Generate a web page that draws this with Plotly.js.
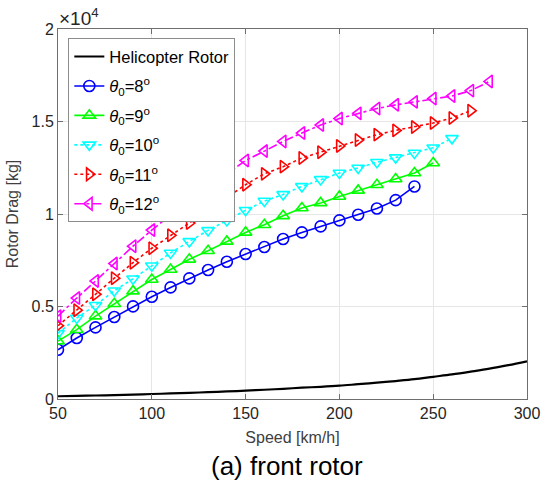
<!DOCTYPE html>
<html>
<head>
<meta charset="utf-8">
<script src="https://cdn.plot.ly/plotly-3.0.1.min.js"></script>
<style>
  html, body { margin: 0; padding: 0; background: #fff; }
  #chart { width: 543px; height: 484px; }
</style>
</head>
<body>
<div id="chart"></div>
<script>
// Rotor drag versus flight speed, front rotor, for several collective pitch settings
const speedHeli = [50, 60, 70, 80, 90, 100, 110, 120, 130, 140, 150, 160, 170, 180, 190, 200, 210, 220, 230, 240, 250, 260, 270, 280, 290, 300];
const dragHeli  = [150, 170, 190, 210, 240, 270, 300, 330, 370, 410, 450, 500, 550, 610, 660, 720, 800, 880, 970, 1070, 1200, 1330, 1480, 1640, 1830, 2040];

const speed8  = [50, 60, 70, 80, 90, 100, 110, 120, 130, 140, 150, 160, 170, 180, 190, 200, 210, 220, 230, 240];
const drag8   = [2665, 3297, 3870, 4432, 5005, 5530, 6032, 6519, 6973, 7421, 7838, 8216, 8649, 9005, 9330, 9654, 9962, 10300, 10750, 11490];

const speed9  = [50, 60, 70, 80, 90, 100, 110, 120, 130, 140, 150, 160, 170, 180, 190, 200, 210, 220, 230, 240, 250];
const drag9   = [3130, 3746, 4480, 5150, 5830, 6460, 7000, 7550, 8016, 8519, 9005, 9421, 9900, 10324, 10600, 10950, 11276, 11584, 11892, 12216, 12757];

const speed10 = [50, 60, 70, 80, 90, 100, 110, 120, 130, 140, 150, 160, 170, 180, 190, 200, 210, 220, 230, 240, 250, 260];
const drag10  = [3550, 4378, 5070, 5850, 6502, 7205, 7892, 8519, 9113, 9650, 10200, 10700, 11060, 11492, 11870, 12216, 12486, 12800, 13050, 13297, 13580, 14090];

const speed11 = [50, 60, 70, 80, 90, 100, 110, 120, 130, 140, 150, 160, 170, 180, 190, 200, 210, 220, 230, 240, 250, 260, 270];
const drag11  = [3962, 4800, 5660, 6530, 7370, 8150, 8850, 9513, 10200, 10900, 11584, 12170, 12560, 13030, 13340, 13680, 14000, 14290, 14520, 14700, 14918, 15189, 15583];

const speed12 = [50, 60, 70, 80, 90, 100, 110, 120, 130, 140, 150, 160, 170, 180, 190, 200, 210, 220, 230, 240, 250, 260, 270, 280];
const drag12  = [4480, 5459, 6380, 7320, 8260, 9130, 9950, 10700, 11400, 12150, 12897, 13400, 13924, 14378, 14810, 15160, 15440, 15700, 15900, 16060, 16240, 16375, 16670, 17167];

const seriesNames = [
  'Helicopter Rotor',
  '<i>θ</i><sub>0</sub>=8<sup>o</sup>',
  '<i>θ</i><sub>0</sub>=9<sup>o</sup>',
  '<i>θ</i><sub>0</sub>=10<sup>o</sup>',
  '<i>θ</i><sub>0</sub>=11<sup>o</sup>',
  '<i>θ</i><sub>0</sub>=12<sup>o</sup>'
];

const xTicks = [50, 100, 150, 200, 250, 300];
const yTickVals = [0, 5000, 10000, 15000, 20000];
const yTickText = ['0', '0.5', '1', '1.5', '2'];

const FONT = 'Liberation Sans, Arial, sans-serif';

function pitchTrace(x, y, name, color, dash, symbol, group) {
  return {
    x: x, y: y, name: name, legendgroup: group, type: 'scatter', mode: 'lines+markers',
    line: { color: color, width: 1.6, dash: dash },
    marker: { symbol: symbol, size: 11, color: color, line: { color: color, width: 1.6 } }
  };
}

const traces = [
  { x: speedHeli, y: dragHeli, name: seriesNames[0], legendgroup: 'heli', type: 'scatter', mode: 'lines',
    line: { color: '#000000', width: 2.2, shape: 'spline' } },
  pitchTrace(speed8,  drag8,  seriesNames[1], '#0000ff', 'solid',   'circle-open',         'p8'),
  pitchTrace(speed9,  drag9,  seriesNames[2], '#00ff00', 'solid',   'triangle-up-open',    'p9'),
  pitchTrace(speed10, drag10, seriesNames[3], '#00ffff', 'dot',     'triangle-down-open',  'p10'),
  pitchTrace(speed11, drag11, seriesNames[4], '#ff0000', 'dot',     'triangle-right-open', 'p11'),
  pitchTrace(speed12, drag12, seriesNames[5], '#ff00ff', 'dashdot', 'triangle-left-open',  'p12')
];

const axisCommon = {
  showline: true, linecolor: '#6e6e6e', linewidth: 1, mirror: 'ticks',
  ticks: 'inside', ticklen: 5, tickcolor: '#6e6e6e',
  showgrid: true, gridcolor: '#e6e6e6', gridwidth: 1,
  zeroline: false,
  tickfont: { family: FONT, size: 16, color: '#262626' }
};

const layout = {
  width: 543, height: 484,
  margin: { l: 58, r: 16, t: 29, b: 85 },
  paper_bgcolor: '#ffffff', plot_bgcolor: '#ffffff',
  showlegend: true,
  legend: {
    x: 0.022, y: 0.975, xanchor: 'left', yanchor: 'top',
    bgcolor: '#ffffff', bordercolor: '#8c8c8c', borderwidth: 1,
    font: { family: FONT, size: 16.5, color: '#000000' },
    itemwidth: 30, tracegroupgap: 5, traceorder: 'grouped'
  },
  xaxis: Object.assign({}, axisCommon, {
    range: [50, 300], tickvals: xTicks, ticktext: xTicks.map(String),
    title: { text: 'Speed [km/h]', standoff: 10,
             font: { family: FONT, size: 16, color: '#404040' } }
  }),
  yaxis: Object.assign({}, axisCommon, {
    range: [0, 20000], tickvals: yTickVals, ticktext: yTickText,
    title: { text: 'Rotor Drag [kg]', standoff: 8,
             font: { family: FONT, size: 16, color: '#404040' } }
  }),
  annotations: [
    { text: '×10<sup>4</sup>', xref: 'paper', yref: 'paper', x: 0, y: 1, xanchor: 'left', yanchor: 'bottom',
      xshift: -1, yshift: -2, showarrow: false,
      font: { family: FONT, size: 19, color: '#262626' } },
    { text: '(a) front rotor', xref: 'paper', yref: 'paper', x: 0.489, y: 0, xanchor: 'center', yanchor: 'middle',
      yshift: -67, showarrow: false,
      font: { family: FONT, size: 26, color: '#000000' } }
  ]
};

Plotly.newPlot('chart', traces, layout, { displayModeBar: false, staticPlot: true });
</script>
</body>
</html>
